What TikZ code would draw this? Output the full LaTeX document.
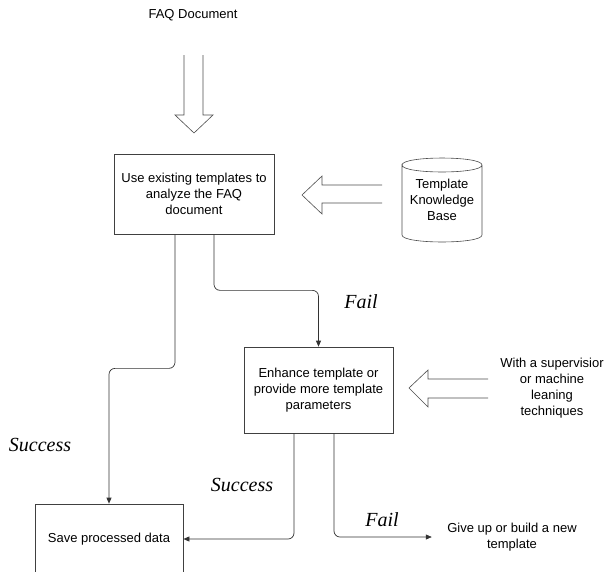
\documentclass[tikz,border=0pt]{standalone}
\usepackage{fontspec}
\setmainfont{Liberation Sans}
\newfontfamily\labelfont{Liberation Serif}
\usetikzlibrary{arrows.meta}

\tikzset{
  box/.style={draw=black!75, line width=0.7pt, align=center, font=\fontsize{13}{16}\selectfont},
  plain/.style={align=center, font=\fontsize{13}{16}\selectfont},
  outcome/.style={font=\labelfont\itshape\fontsize{20}{22}\selectfont},
  link/.style={draw=black!80, line width=0.7pt, rounded corners=6pt, -{Triangle[length=6pt,width=5pt]}},
  hollow/.style={draw=black!70, line width=0.6pt, line join=miter}
}

\begin{document}
\begin{tikzpicture}[x=1pt,y=-1pt]
\useasboundingbox (0,0) rectangle (605,571);
\clip (0,0) rectangle (605,571);

\node[plain] (faq) at (193,15) {FAQ Document};
\node[box, minimum width=160, minimum height=80] (use) at (194,194) {Use existing templates to\\analyze the FAQ\\document};
\node[plain] (kb) at (442,200) {Template\\Knowledge\\Base};
\node[box, minimum width=149, minimum height=86] (enh) at (318.5,390) {Enhance template or\\provide more template\\parameters};
\node[plain] (sup) at (552,388) {With a supervisior\\or machine\\leaning\\techniques};
\node[box, minimum width=148, minimum height=70] (save) at (109,539) {Save processed data};
\node[plain] (give) at (512,537) {Give up or build a new\\template};

% outcome labels
\node[outcome] (succ1) at (40,445) {Success};
\node[outcome] (fail1) at (361,302) {Fail};
\node[outcome] (succ2) at (242,485) {Success};
\node[outcome] (fail2) at (382,520) {Fail};

% knowledge base drum
\draw[hollow] (402,165) .. controls (402,155.7) and (482,155.7) .. (482,165)
  .. controls (482,174.3) and (402,174.3) .. (402,165) -- (402,235)
  .. controls (402,244.3) and (482,244.3) .. (482,235) -- (482,165);

% big open arrows
\draw[hollow] (184,55) -- (184,115) -- (175,115) -- (194,133) -- (213,115) -- (203,115) -- (203,55);
\draw[hollow] (382,185) -- (322,185) -- (322,176) -- (302,195) -- (322,214) -- (322,203) -- (382,203);
\draw[hollow] (488,379) -- (428,379) -- (428,370) -- (409,388) -- (428,407) -- (428,398) -- (488,398);

% flow
\draw[link] ([xshift=20pt]use.south) -- ++(0,56) -| (enh.north);
\draw[link] ([xshift=-19pt]use.south) -- ++(0,134) -| (save.north);
\draw[link] ([xshift=-24.5pt]enh.south) |- (save.east);
\draw[link] ([xshift=15.5pt]enh.south) |- ([xshift=-12pt]give.west);
\end{tikzpicture}
\end{document}
